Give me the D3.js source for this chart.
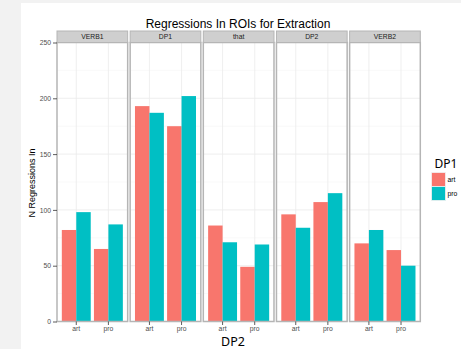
<!DOCTYPE html>
<html>
<head>
  <script src="https://cdnjs.cloudflare.com/ajax/libs/d3/7.8.5/d3.min.js"></script>
  <style>
    body { margin: 0; background: #f2f2f2; }
    svg { display: block; }
  </style>
</head>
<body>
<script>
// regions of interest (facets), x categories (DP2) and fill groups (DP1)
var rois = ["VERB1", "DP1", "that", "DP2", "VERB2"];
var dp2Levels = ["art", "pro"];
var dp1Levels = ["art", "pro"];

// N regressions, one entry per DP2 level, per ROI
var artCounts = [[82, 65], [193, 175], [86, 49], [96, 107], [70, 64]];
var proCounts = [[98, 87], [187, 202], [71, 69], [84, 115], [82, 50]];

var yTicks = [0, 50, 100, 150, 200, 250];
var colors = ["#F8766D", "#00BFC4"];

var w = 461, h = 349;

var rows = [];
rois.forEach(function(r, i) {
  dp2Levels.forEach(function(d2, j) {
    rows.push({roi: r, dp2: d2, dp1: "art", n: artCounts[i][j]});
    rows.push({roi: r, dp2: d2, dp1: "pro", n: proCounts[i][j]});
  });
});

var svg = d3.select("body").append("svg")
  .attr("width", w)
  .attr("height", h);

// white plot sheet on the grey page
svg.append("rect")
  .attr("x", 21).attr("y", 3)
  .attr("width", w - 21).attr("height", h - 3)
  .attr("fill", "#ffffff");

var facet = d3.scaleBand().domain(rois).range([57, 420.3]).paddingInner(0.034);
var xScale = d3.scaleBand().domain(dp2Levels).range([0, facet.bandwidth()])
  .paddingInner(0.1).paddingOuter(0.15);
var dodge = d3.scaleBand().domain(dp1Levels).range([0, xScale.bandwidth()]);
var yScale = d3.scaleLinear().domain([0, 250]).range([321.5, 42.5]);
var color = d3.scaleOrdinal().domain(dp1Levels).range(colors);

// title
svg.append("text")
  .attr("x", 238).attr("y", 27.5)
  .attr("text-anchor", "middle")
  .attr("font-family", "Liberation Sans, Arial, sans-serif")
  .attr("font-size", 12)
  .attr("fill", "#000")
  .text("Regressions In ROIs for Extraction");

var panels = svg.selectAll(".panel")
  .data(rois)
  .enter()
  .append("g")
  .attr("class", "panel")
  .attr("transform", function(d) { return "translate(" + facet(d) + ",0)"; });

var pw = facet.bandwidth();

// grid
panels.each(function(roi) {
  var g = d3.select(this);
  g.selectAll(".minor").data(d3.range(25, 250, 50)).enter().append("line")
    .attr("x1", 0).attr("x2", pw)
    .attr("y1", function(d) { return yScale(d); }).attr("y2", function(d) { return yScale(d); })
    .attr("stroke", "#f5f5f5").attr("stroke-width", 0.6);
  g.selectAll(".major").data(yTicks).enter().append("line")
    .attr("x1", 0).attr("x2", pw)
    .attr("y1", function(d) { return yScale(d); }).attr("y2", function(d) { return yScale(d); })
    .attr("stroke", "#ebebeb").attr("stroke-width", 0.8);
  g.selectAll(".vgrid").data(dp2Levels).enter().append("line")
    .attr("x1", function(d) { return xScale(d) + xScale.bandwidth() / 2; })
    .attr("x2", function(d) { return xScale(d) + xScale.bandwidth() / 2; })
    .attr("y1", yScale(250)).attr("y2", yScale(0))
    .attr("stroke", "#ebebeb").attr("stroke-width", 0.8);

  g.selectAll(".bar")
    .data(rows.filter(function(r) { return r.roi === roi; }))
    .enter()
    .append("rect")
    .attr("class", "bar")
    .attr("x", function(d) { return xScale(d.dp2) + dodge(d.dp1); })
    .attr("y", function(d) { return yScale(d.n); })
    .attr("width", dodge.bandwidth())
    .attr("height", function(d) { return yScale(0) - yScale(d.n); })
    .attr("fill", function(d) { return color(d.dp1); });

  // panel border
  g.append("rect")
    .attr("x", 0).attr("y", yScale(250))
    .attr("width", pw).attr("height", yScale(0) - yScale(250))
    .attr("fill", "none").attr("stroke", "#b5b5b5").attr("stroke-width", 1.5);

  // strip
  g.append("rect")
    .attr("x", 0).attr("y", 31)
    .attr("width", pw).attr("height", 11.5)
    .attr("fill", "#cfcfcf").attr("stroke", "#b5b5b5").attr("stroke-width", 1);
  g.append("text")
    .attr("x", pw / 2).attr("y", 39.3)
    .attr("text-anchor", "middle")
    .attr("font-family", "Liberation Sans, Arial, sans-serif")
    .attr("font-size", 6.8)
    .attr("fill", "#1a1a1a")
    .text(roi);

  // x axis under each panel
  var xa = g.append("g")
    .attr("transform", "translate(0," + yScale(0) + ")")
    .call(d3.axisBottom(xScale).tickSize(3.5).tickPadding(1.5));
  xa.select(".domain").remove();
  xa.selectAll("line").attr("stroke", "#333").attr("stroke-width", 0.8);
  xa.selectAll("text")
    .attr("font-family", "Liberation Sans, Arial, sans-serif")
    .attr("font-size", 6.8)
    .attr("fill", "#4d4d4d");
});

// y axis
var ya = svg.append("g")
  .attr("transform", "translate(57,0)")
  .call(d3.axisLeft(yScale).tickValues(yTicks).tickSize(4).tickPadding(2));
ya.select(".domain").remove();
ya.selectAll("line").attr("stroke", "#333").attr("stroke-width", 0.8);
ya.selectAll("text")
  .attr("font-family", "Liberation Sans, Arial, sans-serif")
  .attr("font-size", 6.8)
  .attr("fill", "#4d4d4d");

svg.append("text")
  .attr("transform", "translate(35,183) rotate(-90)")
  .attr("text-anchor", "middle")
  .attr("font-family", "Liberation Sans, Arial, sans-serif")
  .attr("font-size", 9)
  .attr("fill", "#000")
  .text("N Regressions In");

// x title pasted over the axis, on a white box
svg.append("rect")
  .attr("x", 214).attr("y", 334).attr("width", 36).attr("height", 15)
  .attr("fill", "#fff");
svg.append("text")
  .attr("x", 233).attr("y", 346)
  .attr("text-anchor", "middle")
  .attr("font-family", "Noto Sans, sans-serif")
  .attr("font-size", 12.5)
  .attr("fill", "#000")
  .text("DP2");

// legend
svg.append("text")
  .attr("x", 434.5).attr("y", 167.5)
  .attr("font-family", "Noto Sans, sans-serif")
  .attr("font-size", 12)
  .attr("fill", "#000")
  .text("DP1");

var leg = svg.selectAll(".leg")
  .data(dp1Levels)
  .enter()
  .append("g")
  .attr("class", "leg")
  .attr("transform", function(d, i) { return "translate(431.5," + (172.5 + i * 14) + ")"; });
leg.append("rect")
  .attr("width", 14).attr("height", 14)
  .attr("fill", function(d) { return color(d); })
  .attr("stroke", "#f2f2f2").attr("stroke-width", 0.8);
leg.append("text")
  .attr("x", 16).attr("y", 9.5)
  .attr("font-family", "Liberation Sans, Arial, sans-serif")
  .attr("font-size", 6.8)
  .attr("fill", "#000")
  .text(function(d) { return d; });
</script>
</body>
</html>
